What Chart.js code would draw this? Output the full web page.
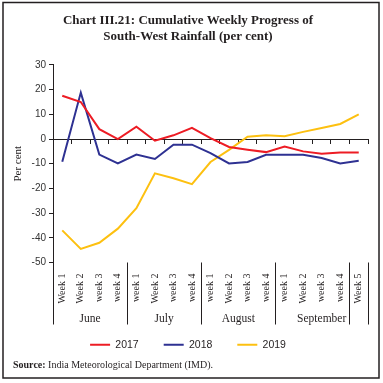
<!DOCTYPE html>
<html>
<head>
<meta charset="utf-8">
<script src="https://cdn.jsdelivr.net/npm/chart.js@4.4.1/dist/chart.umd.min.js"></script>
<style>
  html, body { margin: 0; padding: 0; background: #fff; }
  #wrap { width: 383px; height: 383px; position: relative; }
</style>
</head>
<body>
<div id="wrap"><canvas id="chart"></canvas></div>
<script>
// week labels as printed under the axis
const weeks = ['Week 1', 'Week 2', 'week 3', 'week 4',
               'week 1', 'Week 2', 'week 3', 'week 4',
               'week 1', 'Week 2', 'week 3', 'week 4',
               'week 1', 'Week 2', 'week 3', 'week 4', 'Week 5'];
const months = ['June', 'July', 'August', 'September'];
const monthWeeks = [4, 4, 4, 5];
const dividers = [0, 4, 8, 12, 16, 17];

const rain2017 = [17.5, 15, 4, 0, 5, -0.7, 1.5, 4.5, 0.4, -3.2, -4.3, -5.3, -3, -5, -6, -5.5, -5.5];
const rain2018 = [-9.2, 18.8, -6.3, -9.9, -6.3, -8.1, -2.3, -2.3, -5.7, -9.9, -9.3, -6.4, -6.4, -6.4, -7.7, -9.9, -8.8];
const rain2019 = [-37, -44.5, -42, -36.3, -28, -13.9, -15.9, -18.3, -9.3, -4.4, 0.9, 1.5, 1.1, 2.9, 4.5, 6.1, 10];

const yTicks = { min: -50, max: 30, step: 10 };

const INK = '#231f20';
const SERIF = '"Liberation Serif", "DejaVu Serif", serif';
const SANS = '"Liberation Sans", Arial, sans-serif';

// month groups, divider lines, source note and frame
const extras = {
    id: 'extras',
    afterDraw(chart) {
        const ctx = chart.ctx;
        const x = chart.scales.x;
        const area = chart.chartArea;
        const edge = (k) => x.getPixelForValue(k - 0.5);
        const groupBottom = x.bottom + 10;
        ctx.save();
        ctx.strokeStyle = INK;
        ctx.lineWidth = 1;
        dividers.forEach(k => {
            const px = Math.round(edge(k)) + 0.5;
            ctx.beginPath();
            ctx.moveTo(px, area.bottom);
            ctx.lineTo(px, groupBottom);
            ctx.stroke();
        });
        ctx.fillStyle = INK;
        ctx.font = '11.5px ' + SERIF;
        ctx.textAlign = 'center';
        ctx.textBaseline = 'middle';
        let start = 0;
        months.forEach((m, i) => {
            const mid = (edge(start) + edge(start + monthWeeks[i])) / 2;
            ctx.fillText(m, mid, groupBottom - 6);
            start += monthWeeks[i];
        });

        // source
        ctx.textAlign = 'left';
        ctx.textBaseline = 'alphabetic';
        ctx.font = 'bold 10px ' + SERIF;
        ctx.fillText('Source:', 13, 368);
        const w = ctx.measureText('Source: ').width;
        ctx.font = '10px ' + SERIF;
        ctx.fillText('India Meteorological Department (IMD).', 13 + w, 368);

        // frame
        ctx.lineWidth = 1.5;
        ctx.strokeRect(3, 2.5, 376, 375.5);
        ctx.restore();
    }
};

new Chart(document.getElementById('chart'), {
    type: 'line',
    data: {
        labels: weeks,
        datasets: [
            { label: '2017', data: rain2017, borderColor: '#ed1c24', backgroundColor: '#ed1c24' },
            { label: '2018', data: rain2018, borderColor: '#2e3192', backgroundColor: '#2e3192' },
            { label: '2019', data: rain2019, borderColor: '#fdc010', backgroundColor: '#fdc010' }
        ]
    },
    options: {
        responsive: true,
        maintainAspectRatio: false,
        animation: false,
        layout: { padding: { left: 8, right: 15, top: 0, bottom: 23 } },
        elements: {
            line: { borderWidth: 2, tension: 0 },
            point: { radius: 0 }
        },
        scales: {
            x: {
                type: 'category',
                offset: true,
                grid: { display: false, drawTicks: false },
                border: { display: false },
                ticks: {
                    minRotation: 90, maxRotation: 90, autoSkip: false,
                    padding: 11, color: INK,
                    font: { family: SERIF, size: 10 }
                },
                afterFit: (s) => { s.height = 52; }
            },
            x0: {
                type: 'category',
                axis: 'x',
                labels: weeks,
                position: { y: 0 },
                offset: true,
                grid: { offset: true, drawOnChartArea: false, tickLength: 4, color: INK, lineWidth: 1 },
                border: { color: INK, width: 1 },
                ticks: { display: false }
            },
            y: {
                min: yTicks.min,
                max: yTicks.max,
                ticks: { stepSize: yTicks.step, color: '#333', padding: 3, font: { family: SANS, size: 10 } },
                grid: { drawOnChartArea: false, tickLength: 4, color: INK },
                border: { color: INK, width: 1 },
                title: { display: true, text: 'Per cent', color: INK, padding: 4, font: { family: SERIF, size: 11 } },
                afterFit: (s) => { s.width = 45; }
            }
        },
        plugins: {
            title: {
                display: true,
                text: ['Chart III.21: Cumulative Weekly Progress of', 'South-West Rainfall (per cent)'],
                color: INK,
                font: { family: SERIF, size: 13, weight: 'bold', lineHeight: 1.19 },
                padding: { top: 13, bottom: 21 }
            },
            legend: {
                position: 'bottom',
                labels: {
                    boxWidth: 20, boxHeight: 2, padding: 25, color: INK,
                    font: { family: SANS, size: 10.5 },
                    generateLabels: (chart) => Chart.defaults.plugins.legend.labels.generateLabels(chart)
                        .map(l => Object.assign(l, { lineWidth: 0, fillStyle: l.strokeStyle }))
                }
            },
            tooltip: { enabled: false }
        }
    },
    plugins: [extras]
});
</script>
</body>
</html>
